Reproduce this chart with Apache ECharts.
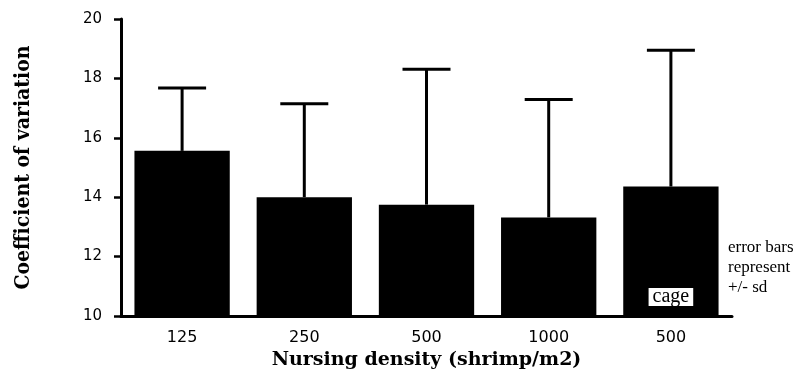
<!DOCTYPE html>
<html>
<head>
<meta charset="utf-8">
<script src="https://cdn.jsdelivr.net/npm/echarts@6/dist/echarts.min.js"></script>
<style>
  html, body { margin: 0; padding: 0; background: #fff; }
  #chart { width: 809px; height: 376px; }
</style>
</head>
<body>
<div id="chart"></div>
<script>
// ---- data ----
const categories = ['125', '250', '500', '1000', '500'];
const meanCV     = [15.56, 14.00, 13.75, 13.32, 14.36];
const sdCV       = [2.12, 3.15, 4.56, 3.97, 4.59];
const yTicks     = { min: 10, max: 20, interval: 2 };
const cageIndex  = 4;
const cageText   = 'cage';
const noteText   = 'error bars\nrepresent\n+/- sd';
const xTitle     = 'Nursing density (shrimp/m2)';
const yTitle     = 'Coefficient of variation';

const chart = echarts.init(document.getElementById('chart'), null, { renderer: 'canvas' });

const barData = meanCV.map((v, i) => {
  if (i !== cageIndex) return v;
  return {
    value: v,
    label: {
      show: true,
      position: 'insideBottom',
      distance: 10,
      formatter: cageText,
      backgroundColor: '#fff',
      color: '#000',
      fontFamily: 'Liberation Serif',
      fontSize: 20,
      lineHeight: 18,
      padding: [0, 4, 0, 4]
    }
  };
});

const errData = meanCV.map((v, i) => [i, v, v + sdCV[i]]);

const option = {
  backgroundColor: '#fff',
  animation: false,
  grid: { left: 121, right: 77, top: 19, bottom: 60 },
  xAxis: {
    type: 'category',
    data: categories,
    name: xTitle,
    nameLocation: 'middle',
    nameGap: 27,
    nameTextStyle: { fontFamily: 'DejaVu Serif', fontWeight: 'bold', fontSize: 19, color: '#000' },
    axisLine: { lineStyle: { color: '#000', width: 3 } },
    axisTick: { alignWithLabel: true, length: 6, lineStyle: { color: '#000', width: 2 } },
    axisLabel: { margin: 14, fontFamily: 'DejaVu Sans', fontSize: 16, color: '#000' },
    splitLine: { show: false }
  },
  yAxis: {
    type: 'value',
    min: yTicks.min,
    max: yTicks.max,
    interval: yTicks.interval,
    name: yTitle,
    nameLocation: 'middle',
    nameGap: 87,
    nameRotate: 90,
    nameTextStyle: { fontFamily: 'DejaVu Serif Condensed', fontWeight: 'bold', fontSize: 21, color: '#000' },
    axisLine: { show: true, lineStyle: { color: '#000', width: 3 } },
    axisTick: { show: true, length: 7, lineStyle: { color: '#000', width: 2.5 } },
    axisLabel: { margin: 19, fontFamily: 'DejaVu Sans', fontSize: 15, color: '#000' },
    splitLine: { show: false }
  },
  series: [
    {
      type: 'bar',
      data: barData,
      barWidth: '78%',
      itemStyle: { color: '#000' },
      z: 2
    },
    {
      type: 'custom',
      data: errData,
      z: 1,
      renderItem: function (params, api) {
        const i = api.value(0);
        const base = api.coord([i, api.value(1)]);
        const top = api.coord([i, api.value(2)]);
        const half = 24;
        return {
          type: 'group',
          children: [
            { type: 'line', shape: { x1: base[0], y1: base[1], x2: top[0], y2: top[1] },
              style: { stroke: '#000', lineWidth: 3 } },
            { type: 'line', shape: { x1: top[0] - half, y1: top[1], x2: top[0] + half, y2: top[1] },
              style: { stroke: '#000', lineWidth: 3 } }
          ]
        };
      }
    }
  ],
  graphic: [
    {
      type: 'text',
      left: 728,
      top: 238,
      style: {
        text: noteText,
        fontFamily: 'Liberation Serif',
        fontSize: 17,
        lineHeight: 20,
        fill: '#000'
      }
    }
  ]
};

chart.setOption(option);
</script>
</body>
</html>
